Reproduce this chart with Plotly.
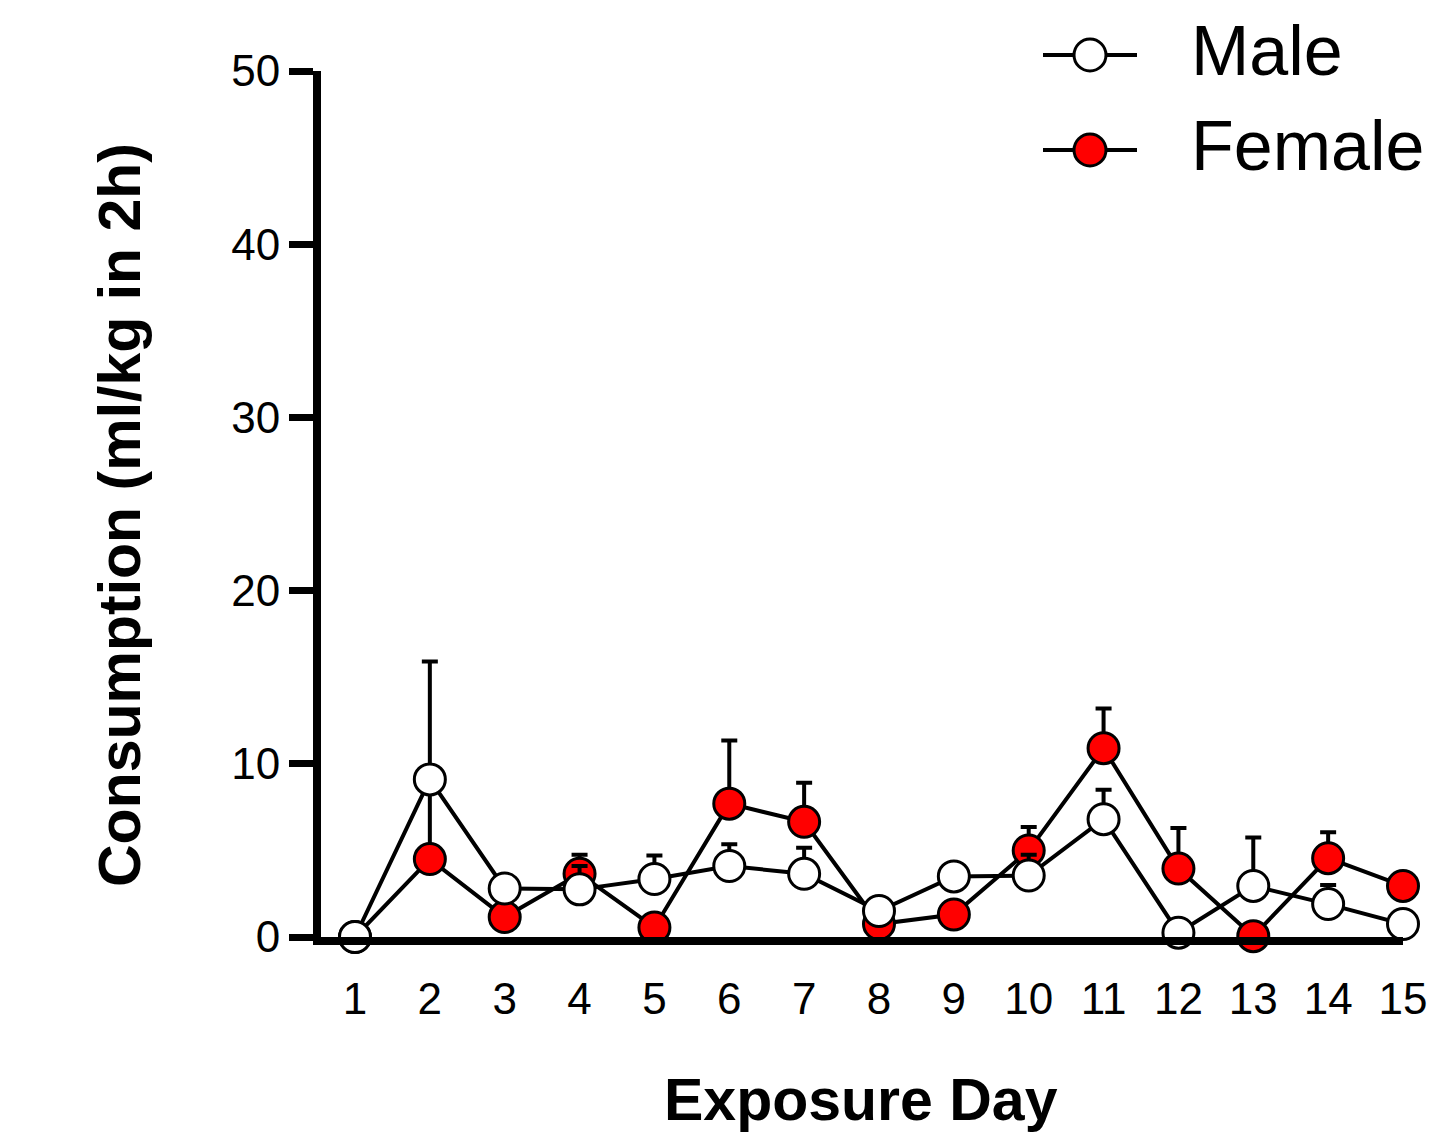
import plotly.graph_objects as go

days = list(range(1, 16))
male_mean = [0.0, 9.1, 2.8, 2.75, 3.35, 4.1, 3.65, 1.5, 3.5, 3.55, 6.8, 0.25, 2.95, 1.9, 0.75]
male_sem = [0.0, 6.8, 0.5, 1.35, 1.35, 1.25, 1.5, 0.4, 0.5, 1.2, 1.7, 0.4, 2.8, 1.1, 0.5]
female_mean = [0.0, 4.5, 1.15, 3.65, 0.55, 7.7, 6.65, 0.75, 1.3, 5.0, 10.9, 3.95, 0.05, 4.55, 2.95]
female_sem = [0.0, 4.0, 0.5, 1.1, 0.5, 3.65, 2.25, 0.4, 0.5, 1.35, 2.3, 2.35, 0.3, 1.5, 0.5]
y_ticks = [0, 10, 20, 30, 40, 50]
legend_names = ["Male", "Female"]
legend_fills = ["white", "#FF0000"]

FONT = "Liberation Sans, Arial, sans-serif"

fig = go.Figure()

def add_series(name, mean, sem, fill):
    fig.add_trace(go.Scatter(
        x=days, y=mean, name=name, mode="lines+markers",
        line=dict(color="black", width=4),
        marker=dict(size=31, color=fill, line=dict(color="black", width=3)),
        error_y=dict(type="data", array=sem, arrayminus=[0] * len(sem), symmetric=False,
                     color="black", thickness=4, width=8),
        cliponaxis=False, showlegend=False,
    ))

add_series("Female", female_mean, female_sem, "#FF0000")
add_series("Male", male_mean, male_sem, "white")

L, R, T, B = 321, 1403, 71, 937
W, H = 1439, 1142
pw, ph = R - L, B - T

def px(xp):
    return (xp - L) / pw

def py(yp):
    return (B - yp) / ph

shapes = []
annotations = []
for i, (nm, fc) in enumerate(zip(legend_names, legend_fills)):
    yc = 55 + 95 * i
    shapes.append(dict(type="line", xref="paper", yref="paper",
                       x0=px(1043), x1=px(1137), y0=py(yc), y1=py(yc),
                       line=dict(color="black", width=4)))
    shapes.append(dict(type="circle", xref="paper", yref="paper",
                       x0=px(1090 - 16), x1=px(1090 + 16), y0=py(yc + 16), y1=py(yc - 16),
                       fillcolor=fc, line=dict(color="black", width=3)))
    annotations.append(dict(text=nm, xref="paper", yref="paper", x=px(1189), y=py(yc - 4),
                            xanchor="left", yanchor="middle", showarrow=False,
                            font=dict(size=70, family=FONT, color="black")))

annotations += [
    dict(text="<b>Consumption (ml/kg in 2h)</b>", xref="paper", yref="paper",
         x=px(120), y=py(515), xanchor="center", yanchor="middle",
         textangle=-90, showarrow=False, font=dict(size=59, family=FONT, color="black")),
    dict(text="<b>Exposure Day</b>", xref="paper", yref="paper",
         x=px(861), y=py(1100), xanchor="center", yanchor="middle",
         showarrow=False, font=dict(size=59, family=FONT, color="black")),
]

fig.update_layout(
    width=W, height=H,
    margin=dict(l=L, r=W - R, t=T, b=H - B, pad=0, autoexpand=False),
    paper_bgcolor="white", plot_bgcolor="white",
    font=dict(family=FONT, color="black"),
    showlegend=False,
    xaxis=dict(
        range=[0.546, 15], tickmode="array", tickvals=days, ticktext=[str(d) for d in days],
        showline=True, linecolor="black", linewidth=8, showgrid=False, zeroline=False,
        ticks="outside", ticklen=16, tickcolor="rgba(0,0,0,0)",
        tickfont=dict(size=44, family=FONT, color="black"),
    ),
    yaxis=dict(
        range=[0, 50], tickmode="array", tickvals=y_ticks, ticktext=[str(v) for v in y_ticks],
        showline=True, linecolor="black", linewidth=8, showgrid=False, zeroline=False,
        ticks="outside", ticklen=24, tickwidth=7, tickcolor="black",
        tickfont=dict(size=44, family=FONT, color="black"),
    ),
    shapes=shapes,
    annotations=annotations,
)

fig.write_html("out.html")
